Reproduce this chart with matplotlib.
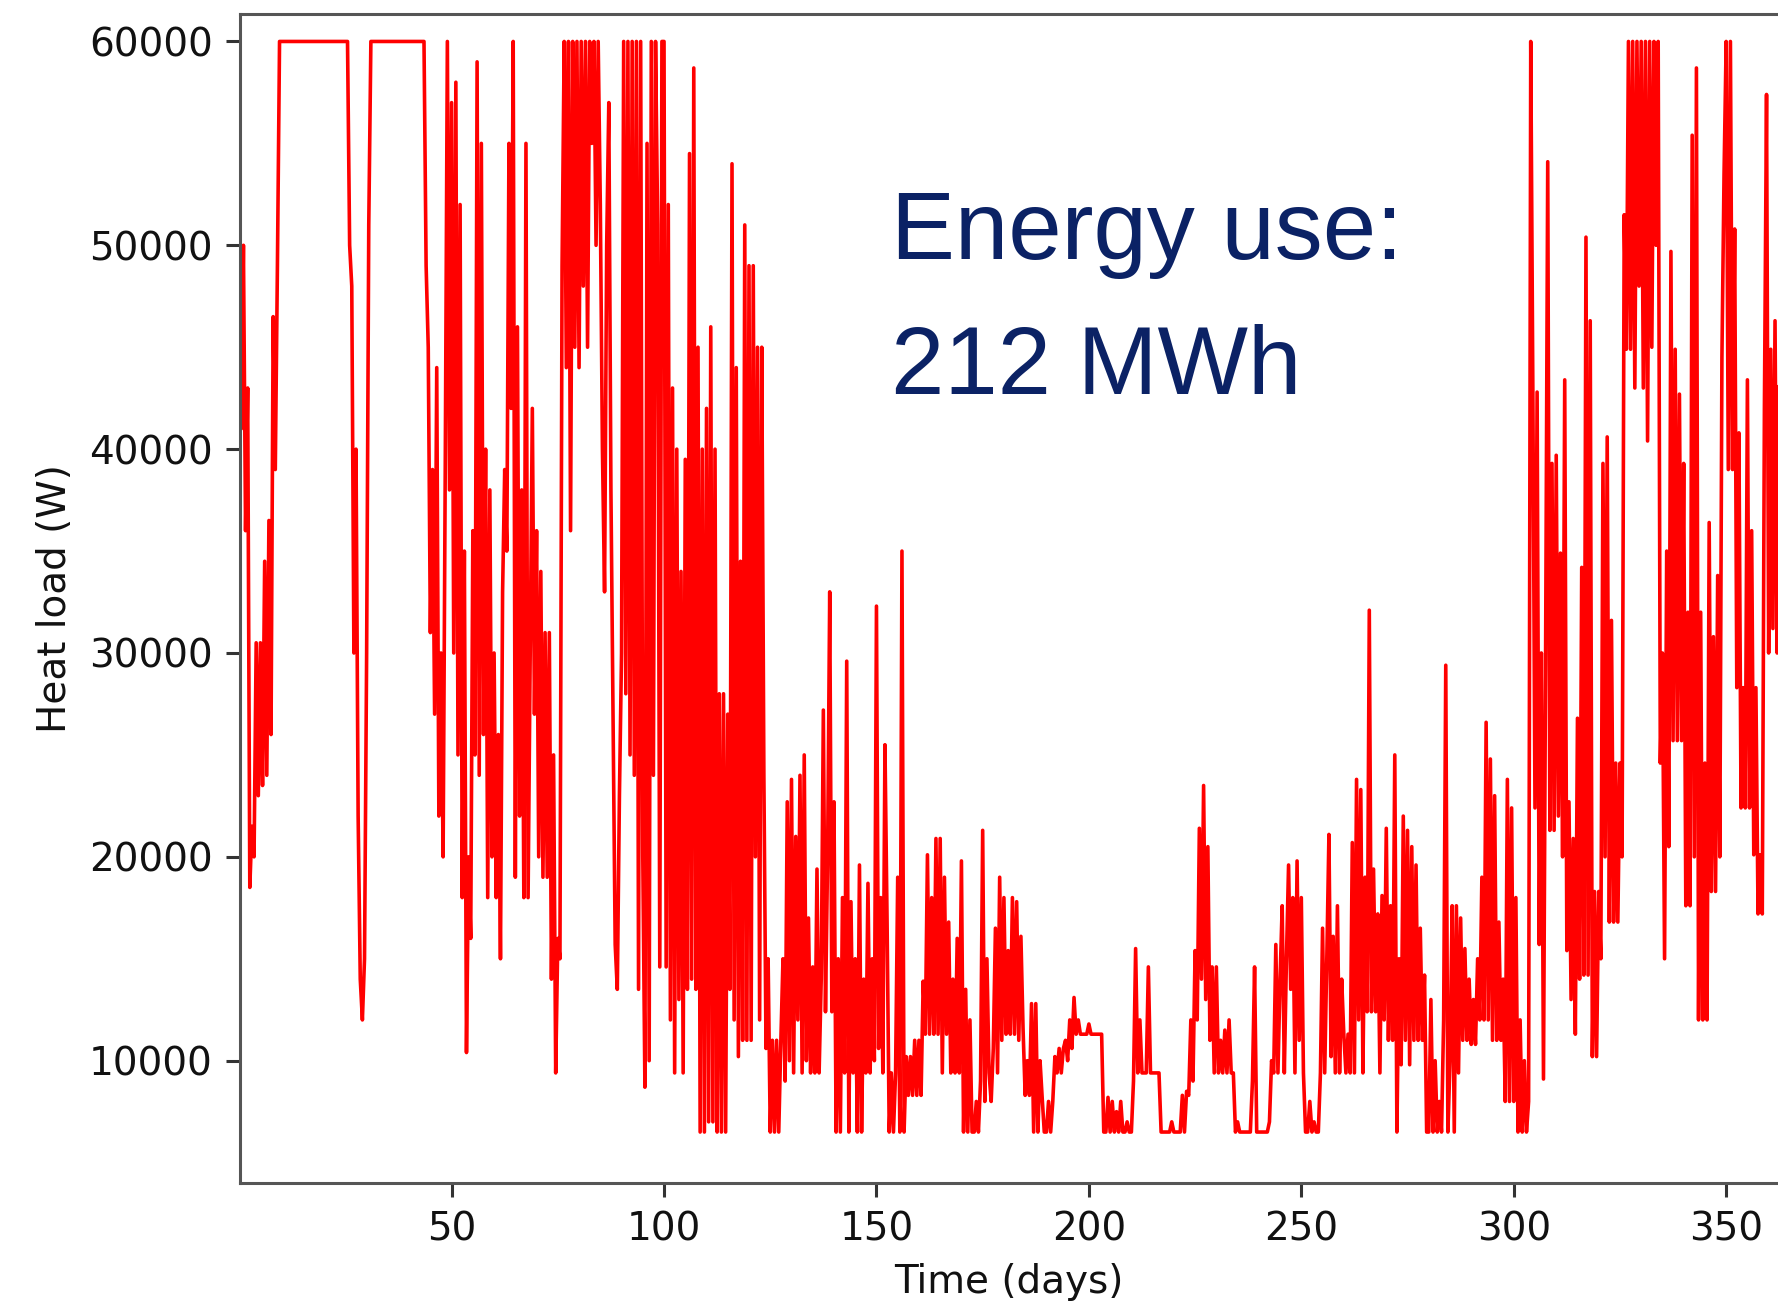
import numpy as np
import matplotlib.pyplot as plt

# Heat load, two samples per day (kW), day 0, 0.5, 1, ...
days_000_059 = [
    53, 41, 50, 36, 43, 18.5, 21.5, 20, 30.5, 23, 30.5, 23.5, 34.5, 24, 36.5, 26, 46.5, 39, 49, 60,
    60, 60, 60, 60, 60, 60, 60, 60, 60, 60, 60, 60, 60, 60, 60, 60, 60, 60, 60, 60,
    60, 60, 60, 60, 60, 60, 60, 60, 60, 60, 60, 60, 50, 48, 30, 40, 22, 14, 12, 15,
    30, 51, 60, 60, 60, 60, 60, 60, 60, 60, 60, 60, 60, 60, 60, 60, 60, 60, 60, 60,
    60, 60, 60, 60, 60, 60, 60, 60, 49, 45, 31, 39, 27, 44, 22, 30, 20, 39, 60, 38,
    57, 30, 58, 25, 52, 18, 35, 10.4, 20, 16, 36, 25, 59, 24, 55, 26, 40, 18, 38, 20,
]
days_060_119 = [
    30, 18, 26, 15, 33, 39, 35, 55, 42, 60, 19, 46, 22, 38, 18, 55, 18, 30, 42, 27,
    36, 20, 34, 19, 31, 19, 31, 14, 25, 9.4, 16, 15, 49, 60, 44, 60, 36, 60, 45, 60,
    44, 60, 48, 60, 45, 60, 55, 60, 50, 60, 52, 40, 33, 50, 57, 38, 27, 15.7, 13.5, 23,
    30, 60, 28, 60, 25, 60, 24, 60, 13.5, 60, 20, 8.7, 55, 10, 60, 24, 60, 51, 14.6, 60,
    60, 14.6, 52, 12, 43, 9.4, 40, 13, 34, 9.4, 39.5, 13.5, 54.5, 14, 58.7, 13.5, 45, 6.5, 40, 6.5,
    42, 7, 46, 7, 40, 6.5, 28, 6.5, 28, 6.5, 27, 13.5, 54, 12, 44, 10.2, 34.5, 11, 51, 11,
]
days_120_179 = [
    49, 11, 49, 20, 45, 12, 45, 24, 10.6, 15, 6.5, 11, 6.5, 11, 6.5, 11, 15, 9, 22.7, 10,
    23.8, 9.4, 21, 12, 24, 9.4, 25, 10, 17, 9.4, 14.6, 9.4, 19.4, 9.4, 14, 27.2, 12.4, 20, 33, 12.4,
    22.7, 6.5, 15, 6.5, 18, 9.4, 29.6, 6.5, 17.8, 9.4, 15, 6.5, 19.6, 6.5, 14, 9.4, 18.7, 9.4, 15, 10,
    32.3, 10.6, 18, 9.4, 25.5, 16.8, 6.5, 9.4, 6.5, 9.4, 19, 6.5, 35, 6.5, 10.2, 8.3, 10.2, 8.3, 11, 8.3,
    11, 8.3, 13.9, 11.3, 20.1, 11.3, 18, 11.3, 20.9, 11.3, 20.9, 9.4, 19, 11.3, 16.8, 9.4, 14, 9.4, 16, 9.4,
    19.8, 6.5, 13.5, 6.5, 12, 6.5, 6.5, 8, 6.5, 9, 21.3, 8, 15, 9.4, 8, 10.6, 16.5, 9.4, 19, 11,
]
days_180_239 = [
    18, 11.3, 15.4, 11.3, 18, 11.3, 17.8, 11, 16.1, 11.6, 8.3, 10, 8.3, 12.8, 6.5, 12.8, 6.5, 10, 8.2, 6.5,
    6.5, 8, 6.5, 8, 10.2, 9.4, 10.6, 9.4, 10.6, 11, 10, 12, 10.6, 13.1, 11.3, 12, 11.3, 11.3, 11.3, 11.3,
    11.8, 11.3, 11.3, 11.3, 11.3, 11.3, 11.3, 6.5, 6.5, 8.2, 6.5, 8, 6.5, 7.5, 6.5, 8, 6.5, 6.5, 7, 6.5,
    6.5, 9, 15.5, 9.4, 12, 9.4, 9.4, 9.4, 14.6, 9.4, 9.4, 9.4, 9.4, 9.4, 6.5, 6.5, 6.5, 6.5, 6.5, 7,
    6.5, 6.5, 6.5, 6.5, 8.3, 6.5, 8.5, 8.3, 12, 9, 15.4, 12, 21.4, 14, 23.5, 13, 20.5, 11, 14.6, 9.4,
    14.6, 9.4, 11, 9.4, 11.5, 9.4, 12, 9.4, 9.4, 6.5, 7, 6.5, 6.5, 6.5, 6.5, 6.5, 6.5, 9, 14.6, 6.5,
]
days_240_299 = [
    6.5, 6.5, 6.5, 6.5, 6.5, 7, 10, 9.4, 15.7, 9.4, 14, 17.6, 9.4, 15, 19.6, 13.5, 18, 9.4, 19.8, 11,
    18, 9.4, 6.5, 6.5, 8, 6.5, 7, 6.5, 6.5, 9.4, 16.5, 9.4, 15, 21.1, 10.2, 16.1, 9.4, 17.6, 9.4, 14,
    11.3, 9.4, 11.3, 9.4, 20.7, 9.4, 23.8, 12, 23.3, 9.4, 19, 12.4, 32.1, 12.4, 19.4, 12.4, 17.2, 9.4, 18.1, 12,
    21.4, 11, 17.6, 11, 25, 6.5, 15, 9.8, 22, 11, 21.3, 9.8, 20.5, 11, 19.6, 11, 16.5, 11, 14.2, 6.5,
    6.5, 13, 6.5, 10, 6.5, 8, 6.5, 12, 29.4, 6.5, 10, 17.6, 6.5, 17.6, 9.4, 17, 11, 15.5, 11, 14,
    10.8, 13, 10.8, 15, 12, 19, 12, 26.6, 12, 24.8, 11, 23, 11, 16.8, 11, 14, 8, 23.8, 8, 22.4,
]
days_300_364 = [
    8, 18, 6.5, 12, 6.5, 10, 6.5, 8, 60, 42.8, 22.4, 42.8, 15.7, 30, 9.1, 30, 54.1, 21.3, 39.3, 21.3,
    39.7, 22, 34.9, 20, 43.4, 15.4, 22.7, 13, 20.9, 11.3, 26.8, 14, 34.2, 14.2, 50.4, 14.2, 46.3, 10.2, 18.3, 10.2,
    18.3, 15, 39.3, 20, 40.6, 16.8, 31.6, 16.8, 24.6, 16.8, 24.6, 20, 51.5, 44.9, 60, 44.9, 60, 43, 60, 48,
    60, 43, 60, 40.4, 60, 45, 60, 50, 60, 24.6, 30, 15, 35, 20.5, 49.7, 25.7, 44.9, 25.7, 42.7, 25.7,
    39.3, 17.6, 32, 17.6, 55.4, 20, 58.7, 12, 32, 12, 24.6, 12, 36.4, 18.3, 30.8, 18.3, 33.8, 20, 44.5, 53.5,
    60, 39, 60, 39, 50.8, 28.3, 40.8, 22.4, 28.3, 22.4, 43.4, 22.4, 36, 20.1, 28.3, 17.2, 20.1, 17.2, 42, 57.4,
    30, 44.9, 31.2, 46.3, 30, 45, 35, 40, 30, 45,
]

x_ticks = [50, 100, 150, 200, 250, 300, 350]
y_ticks = [10000, 20000, 30000, 40000, 50000, 60000]
energy_text = ["Energy use:", "212 MWh"]

load = np.array(days_000_059 + days_060_119 + days_120_179
                + days_180_239 + days_240_299 + days_300_364) * 1000
time = np.arange(len(load)) * 0.5

fig = plt.figure(figsize=(17.78, 13.03), dpi=100)
ax = fig.add_axes([0.135, 0.0921, 0.865, 0.8972])

# Heat load line
ax.plot(time, load, color="red", linewidth=2.6)

# Format
ax.set_xlim(0.2, 362.2)
ax.set_ylim(4000, 61350)
ax.set_xticks(x_ticks)
ax.set_yticks(y_ticks)
ax.tick_params(labelsize=28, length=9.8, width=2.2, pad=9.8,
               color="#333333", labelcolor="#111111")
for side in ["left", "bottom", "top"]:
    ax.spines[side].set_linewidth(2.2)
    ax.spines[side].set_color("#555555")
ax.spines["right"].set_visible(False)
ax.set_xlabel("Time (days)", fontsize=28, labelpad=11, color="#111111")
ax.set_ylabel("Heat load (W)", fontsize=28, labelpad=11, color="#111111")

# Annotation
fig.text(0.501, 0.8016, energy_text[0], fontsize=69, color="#0b2265",
         family="Liberation Sans", va="baseline")
fig.text(0.501, 0.698, energy_text[1], fontsize=69, color="#0b2265",
         family="Liberation Sans", va="baseline")

fig.savefig("out.png", dpi=100)
